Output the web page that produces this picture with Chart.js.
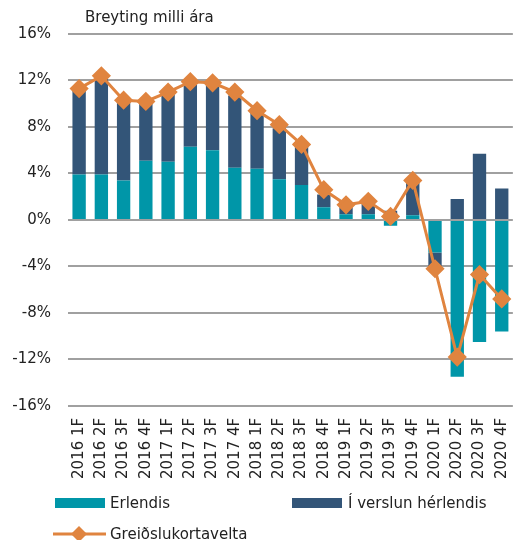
<!DOCTYPE html>
<html>
<head>
<meta charset="utf-8">
<script src="https://cdn.jsdelivr.net/npm/chart.js@4/dist/chart.umd.min.js"></script>
<style>
  body { margin: 0; background: #fff; }
  #wrap { position: relative; width: 524px; height: 540px; overflow: hidden; font-family: "DejaVu Sans", sans-serif; color: #222; }
  #title { position: absolute; left: 85px; top: 8px; font-size: 15px; }
  .leg { position: absolute; font-size: 15px; line-height: 18px; white-space: nowrap; }
  .sw { position: absolute; width: 50px; height: 10px; }
</style>
</head>
<body>
<div id="wrap">
  <canvas id="chart" width="524" height="540"></canvas>
  <div id="title">Breyting milli ára</div>
  <div class="sw" style="left:55px;top:498px;background:#0096a8"></div>
  <div class="leg" style="left:110px;top:494px">Erlendis</div>
  <div class="sw" style="left:292px;top:498px;background:#335578"></div>
  <div class="leg" style="left:348px;top:494px">Í verslun hérlendis</div>
  <svg style="position:absolute;left:52px;top:524px" width="56" height="20">
    <line x1="1" y1="10" x2="54" y2="10" stroke="#e0843f" stroke-width="3"/>
    <polygon points="27,2 35,10 27,18 19,10" fill="#e0843f"/>
  </svg>
  <div class="leg" style="left:110px;top:525px">Greiðslukortavelta</div>
</div>
<script>
var labels = ["2016 1F","2016 2F","2016 3F","2016 4F","2017 1F","2017 2F","2017 3F","2017 4F",
  "2018 1F","2018 2F","2018 3F","2018 4F","2019 1F","2019 2F","2019 3F","2019 4F",
  "2020 1F","2020 2F","2020 3F","2020 4F"];
var erlendis = [3.9, 3.9, 3.4, 5.1, 5.0, 6.3, 6.0, 4.5, 4.4, 3.5, 3.0, 1.1, 0.5, 0.5, -0.5, 0.4, -2.8, -13.5, -10.5, -9.6];
var herlendis = [7.3, 8.2, 6.9, 5.0, 5.8, 5.4, 5.6, 6.2, 4.8, 4.4, 3.4, 1.1, 0.6, 0.9, 0.8, 2.8, -1.4, 1.8, 5.7, 2.7];
var kortavelta = [11.3, 12.4, 10.3, 10.2, 11.0, 11.9, 11.8, 11.0, 9.4, 8.2, 6.5, 2.6, 1.3, 1.6, 0.3, 3.4, -4.2, -11.8, -4.7, -6.8];
var yTicks = [-16, -12, -8, -4, 0, 4, 8, 12, 16];

var ctx = document.getElementById("chart").getContext("2d");
Chart.defaults.font.family = "'DejaVu Sans', sans-serif";
Chart.defaults.color = "#222";

new Chart(ctx, {
  type: "bar",
  data: {
    labels: labels,
    datasets: [
      { label: "Greiðslukortavelta", type: "line", data: kortavelta, stack: "line", order: 0,
        borderColor: "#e0843f", backgroundColor: "#e0843f", borderWidth: 3,
        pointStyle: "rectRot", pointRadius: 7.5, pointHoverRadius: 7.5, tension: 0 },
      { label: "Erlendis", data: erlendis, stack: "bars", order: 1, backgroundColor: "#0096a8",
        barPercentage: 0.6, categoryPercentage: 1 },
      { label: "Í verslun hérlendis", data: herlendis, stack: "bars", order: 1, backgroundColor: "#335578",
        barPercentage: 0.6, categoryPercentage: 1 }
    ]
  },
  options: {
    responsive: false,
    animation: false,
    layout: { padding: { left: 0, right: 6, top: 34, bottom: 57 } },
    plugins: { legend: { display: false }, tooltip: { enabled: false } },
    scales: {
      x: {
        stacked: true,
        grid: { display: false },
        border: { display: false },
        ticks: { minRotation: 90, maxRotation: 90, autoSkip: false, font: { size: 15 }, padding: 4 }
      },
      y: {
        stacked: true,
        min: -16, max: 16,
        afterFit: function (s) { s.width = 68; },
        afterBuildTicks: function (s) { s.ticks = yTicks.map(function (v) { return { value: v }; }); },
        grid: { color: "#a0a0a0", lineWidth: 2, drawTicks: false },
        border: { display: false },
        ticks: { font: { size: 15 }, padding: 17, callback: function (v) { return v + "%"; } }
      }
    }
  }
});
</script>
</body>
</html>
